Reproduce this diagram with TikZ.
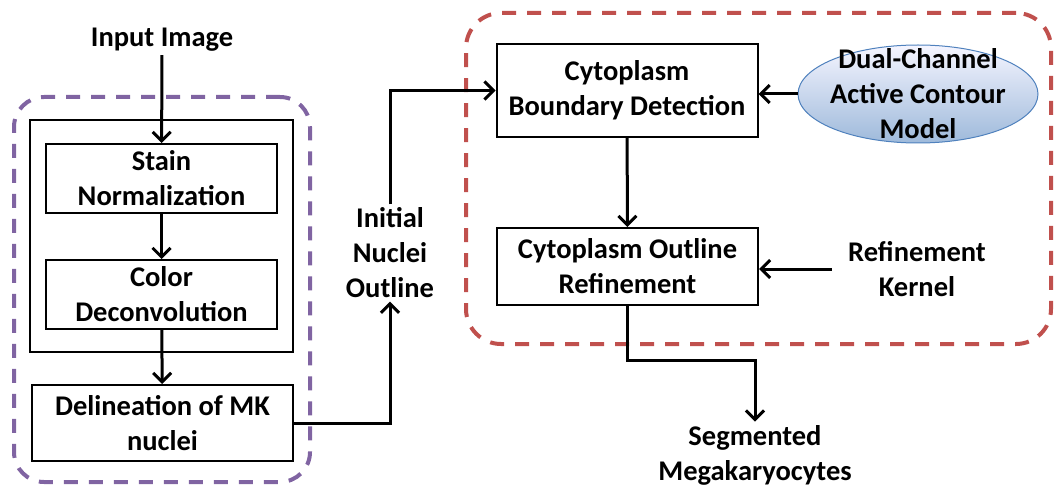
\documentclass[tikz,border=0pt]{standalone}
\usepackage{fontspec}
\setmainfont{Carlito}
\usepackage{tikz}
\usetikzlibrary{arrows.meta,positioning,shapes.geometric}

\definecolor{grppurple}{RGB}{128,100,162}
\definecolor{grpred}{RGB}{192,80,77}
\definecolor{ellblue}{RGB}{79,129,189}

\begin{document}
\begin{tikzpicture}[
			x=1pt, y=-1pt,
			every node/.style={font=\fontsize{28.5}{35}\selectfont\bfseries, align=center},
			stepbox/.style={draw, line width=2pt, inner sep=0pt},
			grpbox/.style={draw, dashed, line width=4pt, dash pattern=on 14pt off 11pt, inner sep=0pt},
			arr/.style={line width=3pt, -{Straight Barb[length=9pt,width=18pt]}}
			]
			\useasboundingbox (0,0) rectangle (1054,489);
			% Groups
			\node[grpbox, grppurple, rounded corners=30pt, minimum width=296pt, minimum height=385pt] (grpnuc) at (162,289.5) {};
			\node[grpbox, grpred, rounded corners=35pt, minimum width=585pt, minimum height=331pt] (grpcyto) at (758.5,178.5) {};
			% Nuclei part
			\node (inimg) at (162,40) {Input Image};
			\node[stepbox, minimum width=263pt, minimum height=232pt] (prebox) at (161.5,236) {};
			\node[stepbox, minimum width=231pt, minimum height=69pt] (stain) at (161.5,178.5) {Stain\\Normalization};
			\node[stepbox, minimum width=231pt, minimum height=69pt] (color) at (161.5,294.5) {Color\\Deconvolution};
			\node[stepbox, minimum width=261pt, minimum height=76pt] (delin) at (162.5,423) {Delineation of MK\\nuclei};
			\node (initnuc) at (390,253) {Initial\\Nuclei\\Outline};
			% Cytoplasm part
			\node[stepbox, minimum width=261pt, minimum height=93pt] (cbd) at (627,90.5) {Cytoplasm\\Boundary Detection};
			\node[stepbox, minimum width=261pt, minimum height=77pt] (cor) at (627.5,266.5) {Cytoplasm Outline\\Refinement};
			\node[ellipse, draw=ellblue, line width=1pt, top color=blue!4!white, bottom color=ellblue!55!white, minimum width=240pt, minimum height=98pt, inner sep=0pt] (dualell) at (918,94) {};
			\node (dual) at (dualell) {Dual-Channel\\Active Contour\\Model};
			\node[inner xsep=16pt] (refk) at (917,269) {Refinement\\Kernel};
			\node (seg) at (755,455) {Segmented\\Megakaryocytes};
			% Connectors
			\draw[arr] (inimg) -- (stain);
			\draw[arr] (stain) -- (color);
			\draw[arr] (color) -- (delin);
			\draw[arr] (delin.east) -| (initnuc.south);
			\draw[arr] (initnuc.north) |- (cbd.west);
			\draw[arr] (dualell.west) -- (cbd.east |- dualell.west);
			\draw[arr] (cbd) -- (cor);
			\draw[arr] (refk.west) -- (cor.east |- refk.west);
			\draw[arr] (cor.south) -- ++(0,54) -| (seg.north);
		\end{tikzpicture}
\end{document}
